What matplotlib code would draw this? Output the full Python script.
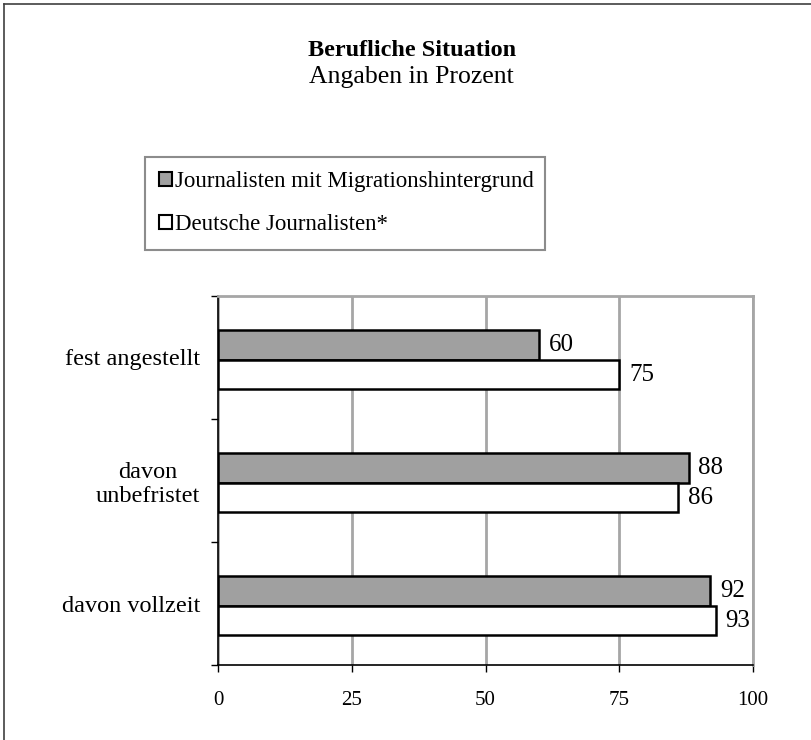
import matplotlib
matplotlib.use('Agg')
import matplotlib.pyplot as plt
from matplotlib.lines import Line2D
from matplotlib.patches import Patch

categories = ['fest angestellt', 'davon\nunbefristet', 'davon vollzeit']
migration = [60, 88, 92]
deutsche = [75, 86, 93]
series_names = ['Journalisten mit Migrationshintergrund', 'Deutsche Journalisten*']
x_ticks = [0, 25, 50, 75, 100]

plt.rcParams['font.family'] = ['Liberation Serif', 'DejaVu Serif']

W, H = 811, 740
fig = plt.figure(figsize=(W / 100, H / 100), dpi=100)

# outer frame (only left and top edges visible)
fig.add_artist(Line2D([4 / W, 4 / W], [0, 1 - 4 / H], color='#404040', lw=1.2))
fig.add_artist(Line2D([4 / W, 1], [1 - 4 / H, 1 - 4 / H], color='#404040', lw=1.2))

fig.text(412 / W, 1 - 56 / H, 'Berufliche Situation', ha='center', va='baseline',
         fontsize=17.5, fontweight='bold')
fig.text(411 / W, 1 - 83 / H, 'Angaben in Prozent', ha='center', va='baseline',
         fontsize=18.5)

ax = fig.add_axes([218 / W, 1 - 665 / H, (753 - 218) / W, (665 - 296) / H])

h = 0.24
centers = [i + 0.52 for i in range(len(categories))]
ax.barh([c - h / 2 for c in centers], migration, height=h, color='#a0a0a0',
        edgecolor='black', linewidth=1.8, zorder=3)
ax.barh([c + h / 2 for c in centers], deutsche, height=h, color='white',
        edgecolor='black', linewidth=1.8, zorder=3)

for c, v in zip(centers, migration):
    ax.text(v + 1.8, c - h / 2, str(v), va='center', ha='left', fontsize=18)
for c, v in zip(centers, deutsche):
    ax.text(v + 1.8, c + h / 2, str(v), va='center', ha='left', fontsize=18)

ax.set_xlim(0, 100)
ax.set_ylim(3, 0)
ax.set_xticks(x_ticks)
ax.set_xticklabels([str(t) for t in x_ticks], fontsize=15)
ax.set_yticks([0, 1, 2, 3])
ax.set_yticklabels([])
ax.set_yticks([i + 0.5 for i in range(len(categories))], minor=True)
ax.set_yticklabels(categories, minor=True, fontsize=17.5, multialignment='center')
ax.tick_params(axis='y', which='minor', length=0, pad=13)
ax.tick_params(axis='y', which='major', length=5, width=1, direction='out')
ax.tick_params(axis='x', length=5, width=1, direction='out', pad=14)

ax.grid(axis='x', color='#a6a6a6', linewidth=2, zorder=0)
ax.spines['top'].set_color('#a6a6a6')
ax.spines['top'].set_linewidth(2)
ax.spines['right'].set_color('#a6a6a6')
ax.spines['right'].set_linewidth(2)
ax.spines['left'].set_linewidth(1.2)
ax.spines['bottom'].set_linewidth(1.2)
ax.set_axisbelow(True)

handles = [Patch(facecolor='#a0a0a0', edgecolor='black', linewidth=1.5),
           Patch(facecolor='white', edgecolor='black', linewidth=1.5)]
leg = fig.legend(handles, series_names, loc='upper left',
                 bbox_to_anchor=(145 / W, 1 - 244 / H, 400 / W, 87 / H),
                 mode='expand', fontsize=16.5, frameon=True, fancybox=False,
                 handlelength=0.55, handleheight=0.55, handletextpad=0.15,
                 labelspacing=0.97, borderpad=0.62, borderaxespad=0)
leg.get_frame().set_edgecolor('#707070')
leg.get_frame().set_linewidth(1.5)

fig.savefig('out.png', dpi=100)
